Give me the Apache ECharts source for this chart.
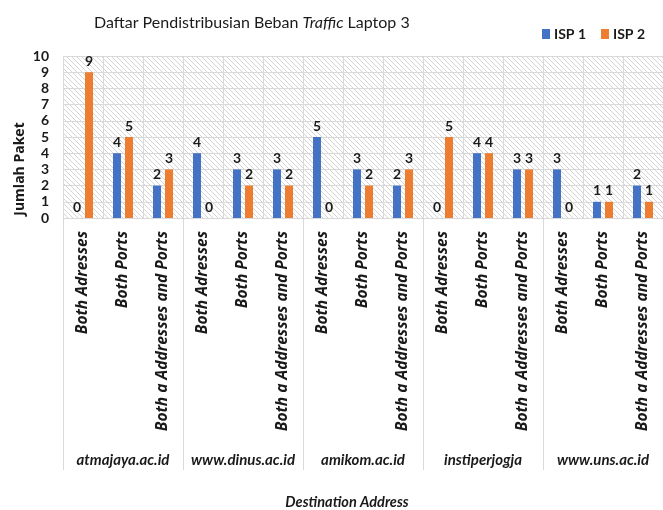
<!DOCTYPE html>
<html><head><meta charset="utf-8">
<script src="https://cdn.jsdelivr.net/npm/echarts@6/dist/echarts.min.js"></script>
<style>html,body{margin:0;padding:0;background:#fff}#c{width:663px;height:510px}</style>
</head><body><div id="c"></div>
<script>
var groups = ['atmajaya.ac.id', 'www.dinus.ac.id', 'amikom.ac.id', 'instiperjogja', 'www.uns.ac.id'];
var subTypes = ['Both Adresses', 'Both Ports', 'Both a Addresses and Ports'];
var isp1 = [0, 4, 2, 4, 3, 3, 5, 3, 2, 0, 4, 3, 3, 1, 2];
var isp2 = [9, 5, 3, 0, 2, 2, 0, 2, 3, 5, 4, 3, 0, 1, 1];
var yTicks = [0, 1, 2, 3, 4, 5, 6, 7, 8, 9, 10];

var categories = [];
groups.forEach(function (g) { subTypes.forEach(function (s) { categories.push(s); }); });

var pc = document.createElement('canvas');
pc.width = 5; pc.height = 5;
var ctx = pc.getContext('2d');
ctx.fillStyle = '#ffffff'; ctx.fillRect(0, 0, 5, 5);
ctx.strokeStyle = '#d4d4d4'; ctx.lineWidth = 1;
ctx.beginPath(); ctx.moveTo(-1, -1); ctx.lineTo(6, 6); ctx.stroke();
ctx.beginPath(); ctx.moveTo(-1, 4); ctx.lineTo(1, 6); ctx.stroke();
ctx.beginPath(); ctx.moveTo(4, -1); ctx.lineTo(6, 1); ctx.stroke();

var FONT = 'Lato';
var FONT2 = 'Open Sans';
var chart = echarts.init(document.getElementById('c'), null, { renderer: 'canvas' });
var lbl = { show: true, position: 'top', fontFamily: FONT, fontWeight: 'bold', fontSize: 14, color: '#1a1a1a', distance: 4 };
chart.setOption({
  animation: false,
  title: {
    text: 'Daftar Pendistribusian Beban {i|Traffic} Laptop 3',
    left: 89, top: 10,
    textStyle: { fontFamily: FONT, fontSize: 16, fontWeight: 'normal', color: '#1a1a1a',
      rich: { i: { fontFamily: FONT, fontSize: 16, fontStyle: 'italic', color: '#1a1a1a' } } }
  },
  legend: {
    data: ['ISP 1', 'ISP 2'], left: 537, top: 22, itemWidth: 8, itemHeight: 10, itemGap: 15,
    icon: 'rect',
    textStyle: { fontFamily: FONT, fontWeight: 'bold', fontSize: 14, color: '#1a1a1a', padding: [0, 0, 0, -1] }
  },
  graphic: [{
    type: 'text', x: 20, y: 169, rotation: Math.PI / 2,
    style: { text: 'Jumlah Paket', fontFamily: FONT2, fontWeight: 'bold', fontSize: 14, fill: '#1a1a1a', align: 'center', verticalAlign: 'middle' }
  }, {
    type: 'text', x: 347, y: 502,
    style: { text: 'Destination Address', fontFamily: FONT, fontWeight: 'bold', fontStyle: 'italic', fontSize: 14.5, fill: '#1a1a1a', align: 'center', verticalAlign: 'middle' }
  }],
  grid: { left: 63, top: 56, width: 606, height: 162, show: true, borderWidth: 0,
    backgroundColor: { image: pc, repeat: 'repeat' } },
  xAxis: [{
    type: 'category', data: categories, position: 'bottom',
    axisLine: { show: false }, axisTick: { show: false },
    splitLine: { show: true, interval: 0, lineStyle: { color: '#d9d9d9', width: 1 } },
    axisLabel: { interval: 0, rotate: 90, margin: 13, fontFamily: FONT2, fontWeight: 'bold', fontStyle: 'italic', fontSize: 15.5, color: '#1a1a1a' }
  }, {
    type: 'category', data: groups, position: 'bottom',
    axisLine: { show: true, lineStyle: { color: '#d9d9d9' } },
    axisTick: { show: true, interval: 0, length: 252, lineStyle: { color: '#d9d9d9' } },
    axisLabel: { interval: 0, margin: 235, fontFamily: FONT, fontWeight: 'bold', fontStyle: 'italic', fontSize: 15, color: '#1a1a1a' }
  }],
  yAxis: {
    type: 'value', min: yTicks[0], max: yTicks[yTicks.length - 1], interval: 1,
    axisLine: { show: false }, axisTick: { show: false },
    splitLine: { show: true, lineStyle: { color: '#d9d9d9' } },
    axisLabel: { margin: 14, fontFamily: FONT, fontWeight: 'bold', fontSize: 14, color: '#1a1a1a' }
  },
  series: [
    { name: 'ISP 1', type: 'bar', data: isp1, barWidth: 8, barGap: '50%', itemStyle: { color: '#4472C4' }, label: lbl },
    { name: 'ISP 2', type: 'bar', data: isp2, barWidth: 8, barGap: '50%', itemStyle: { color: '#ED7D31' }, label: lbl }
  ]
});
</script></body></html>
